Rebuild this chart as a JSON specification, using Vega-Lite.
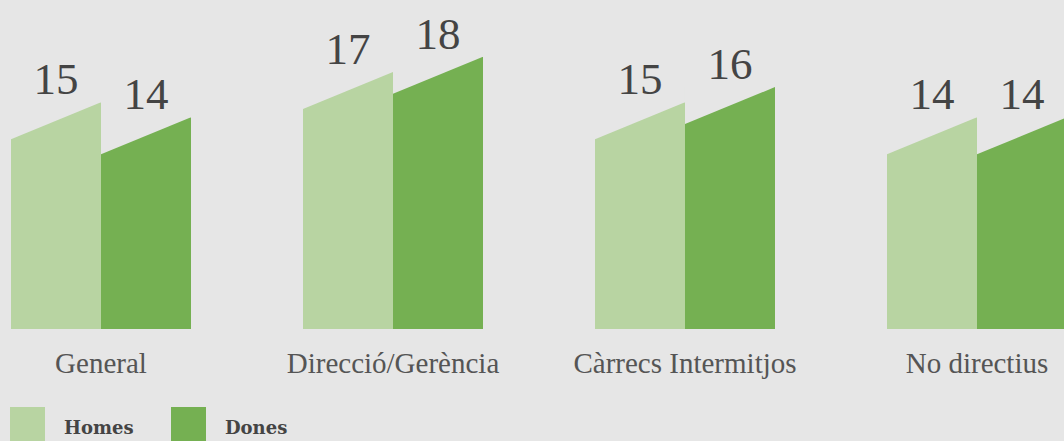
{
  "$schema": "https://vega.github.io/schema/vega-lite/v6.json",
  "width": 1064,
  "height": 329,
  "autosize": {"type": "none"},
  "padding": {"left": 0, "top": 0, "right": 0, "bottom": 112},
  "background": "#e6e6e6",
  "config": {"view": {"stroke": null}},
  "data": {
    "values": [
      {"category": "General", "gender": "Homes", "value": 15},
      {"category": "General", "gender": "Dones", "value": 14},
      {"category": "Direcció/Gerència", "gender": "Homes", "value": 17},
      {"category": "Direcció/Gerència", "gender": "Dones", "value": 18},
      {"category": "Càrrecs Intermitjos", "gender": "Homes", "value": 15},
      {"category": "Càrrecs Intermitjos", "gender": "Dones", "value": 16},
      {"category": "No directius", "gender": "Homes", "value": 14},
      {"category": "No directius", "gender": "Dones", "value": 14}
    ]
  },
  "encoding": {
    "x": {
      "field": "category",
      "type": "nominal",
      "sort": ["General", "Direcció/Gerència", "Càrrecs Intermitjos", "No directius"],
      "scale": {"range": [11, 1067], "paddingInner": 0.38356, "paddingOuter": 0},
      "axis": {
        "title": null,
        "domain": false,
        "ticks": false,
        "labelAngle": 0,
        "labelPadding": 20,
        "labelFont": "Liberation Serif",
        "labelFontSize": 29,
        "labelFontWeight": "normal",
        "labelColor": "#555555",
        "labelOverlap": false,
        "labelLimit": 600
      }
    },
    "xOffset": {
      "field": "gender",
      "type": "nominal",
      "sort": ["Homes", "Dones"],
      "scale": {"paddingInner": 0, "paddingOuter": 0}
    },
    "y": {
      "field": "value",
      "type": "quantitative",
      "scale": {"domain": [0, 21.76], "nice": false, "zero": true},
      "axis": null
    }
  },
  "layer": [
    {
      "mark": {"type": "bar"},
      "encoding": {
        "color": {
          "field": "gender",
          "type": "nominal",
          "sort": ["Homes", "Dones"],
          "scale": {"domain": ["Homes", "Dones"], "range": ["#b8d4a2", "#75b052"]},
          "legend": {
            "title": null,
            "orient": "none",
            "direction": "horizontal",
            "legendX": 10,
            "legendY": 407,
            "padding": 0,
            "symbolType": "square",
            "symbolSize": 1225,
            "symbolStrokeWidth": 0,
            "symbolOpacity": 1,
            "labelFont": "DejaVu Serif",
            "labelFontSize": 18,
            "labelFontWeight": "bold",
            "labelColor": "#444444",
            "labelOffset": 19,
            "columnPadding": 37,
            "encode": {"labels": {"update": {"dy": {"value": 4}}}}
          }
        }
      }
    },
    {
      "mark": {
        "type": "point",
        "shape": "M -1 -0.04 L 1 -0.04 L 1 0 L -1 0.822 Z",
        "size": 8100,
        "filled": true,
        "opacity": 1,
        "strokeWidth": 0,
        "color": "#e6e6e6"
      },
      "encoding": {}
    },
    {
      "mark": {
        "type": "text",
        "dy": -8,
        "baseline": "alphabetic",
        "font": "Liberation Serif",
        "fontSize": 45,
        "color": "#444444"
      },
      "encoding": {"text": {"field": "value", "type": "quantitative"}}
    }
  ]
}
